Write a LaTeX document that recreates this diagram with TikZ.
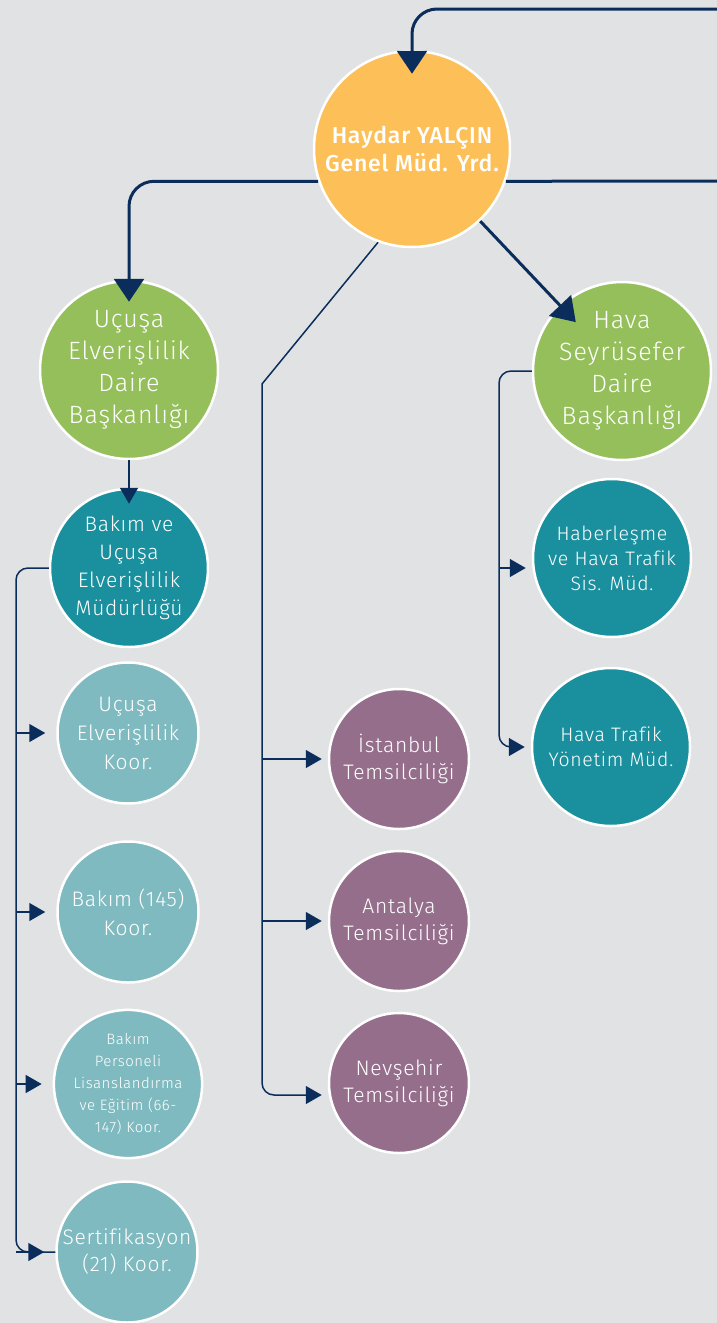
\documentclass[tikz,border=0pt]{standalone}
\usepackage{fontspec}
\setmainfont{Fira Sans}[UprightFont={* Light},BoldFont={* Medium},LetterSpace=3.5,Ligatures=NoCommon]
\usetikzlibrary{arrows.meta}
\definecolor{bgcol}{HTML}{E1E2E4}
\definecolor{navy}{HTML}{0B2D5B}
\definecolor{yellowc}{HTML}{FDBF57}
\definecolor{greenc}{HTML}{95BF5B}
\definecolor{tealc}{HTML}{1A909F}
\definecolor{lteal}{HTML}{7FBAC0}
\definecolor{purplec}{HTML}{956E8C}

\begin{document}
\begin{tikzpicture}[x=1pt,y=-1pt,
  circstyle/.style={circle,draw=white,line width=2.5pt,inner sep=0pt,align=center,text=white},
  headstyle/.style={circstyle,fill=yellowc,minimum size=196pt,font=\bfseries\fontsize{23}{28}\selectfont},
  daistyle/.style={circstyle,fill=greenc,minimum size=178pt,font=\fontsize{25}{32}\selectfont},
  mudstyle/.style={circstyle,fill=tealc,minimum size=158pt,font=\fontsize{21}{28}\selectfont},
  koorstyle/.style={circstyle,fill=lteal,minimum size=141pt,font=\fontsize{21}{29}\selectfont},
  temsstyle/.style={circstyle,fill=purplec,minimum size=140pt,font=\fontsize{21}{27}\selectfont},
  thickline/.style={draw=navy,line width=3pt},
  thinline/.style={draw=navy,line width=1.5pt},
  bigtip/.style={-{Triangle[width=30pt,length=23pt]}},
  smalltip/.style={-{Triangle[width=18pt,length=16pt]}}]
  \fill[bgcol] (0,0) rectangle (717,1323);
  \useasboundingbox (0,0) rectangle (717,1323);

  \node[headstyle] (yrd) at (412,149) {Haydar YALÇIN\\Genel Müd. Yrd.};
  \node[daistyle] (ucus) at (129,370) {Uçuşa\\Elverişlilik\\Daire\\Başkanlığı};
  \node[daistyle] (hava) at (622,371) {Hava\\Seyrüsefer\\Daire\\Başkanlığı};
  \node[mudstyle] (bkm) at (129,568) {Bakım ve\\Uçuşa\\Elverişlilik\\Müdürlüğü};
  \node[koorstyle] (koorA) at (128,733) {Uçuşa\\Elverişlilik\\Koor.};
  \node[koorstyle] (koorB) at (128,912) {Bakım (145)\\Koor.};
  \node[koorstyle,font=\fontsize{15}{22}\selectfont] (koorC) at (128,1084)
    {Bakım\\Personeli\\Lisanslandırma\\ve Eğitim (66-\\147) Koor.};
  \node[koorstyle,font=\fontsize{21}{27}\selectfont] (koorD) at (127,1252) {Sertifikasyon\\(21) Koor.};
  \node[temsstyle] (ist) at (399,759) {İstanbul\\Temsilciliği};
  \node[temsstyle] (ant) at (399,921) {Antalya\\Temsilciliği};
  \node[temsstyle] (nev) at (399,1083) {Nevşehir\\Temsilciliği};
  \node[mudstyle,font=\fontsize{19.5}{25}\selectfont] (hab) at (612,558) {Haberleşme\\ve Hava Trafik\\Sis. Müd.};
  \node[mudstyle,font=\fontsize{19.5}{25}\selectfont] (hty) at (611,747) {Hava Trafik\\Yönetim Müd.};

  \coordinate (topin) at (720,9);
  \coordinate (rightout) at (720,181);
  \coordinate (lbus) at (16,564);
  \coordinate (mbus) at (262,384);
  \coordinate (rbus) at (499,373);
  \coordinate (habin) at ([yshift=-10pt]hab.west);

  \draw[thickline,bigtip,rounded corners=25] (topin) -| ([yshift=-24pt]yrd.north);
  \draw[thickline] (yrd.-19) -- (rightout);
  \draw[thickline,bigtip,rounded corners=25] (yrd.199) -| ([yshift=-22pt]ucus.north);
  \draw[thickline,bigtip,shorten >=-23pt] (yrd) -- (hava);
  \draw[thinline,smalltip,shorten >=-16pt] (ucus) -- (bkm);

  \draw[thinline,rounded corners=12] (bkm.west) -| (lbus |- koorD) -- (koorD.west);
  \foreach \n in {koorA,koorB,koorC,koorD}
    \draw[thinline,smalltip] (lbus |- \n) -- ([xshift=-11pt]\n.west);

  \draw[thinline,smalltip] (yrd.250) -- (mbus) [rounded corners=12] |- ([xshift=-6pt,yshift=-12pt]nev.west);
  \foreach \n in {ist,ant}
    \draw[thinline,smalltip] (mbus |- \n) -- ([xshift=-6pt]\n.west);

  \draw[thinline,smalltip,rounded corners=12] (hava.west) -| (rbus |- hty) -- ([xshift=-6pt]hty.west);
  \draw[thinline,smalltip] (rbus |- habin) -- ([xshift=-6pt]habin);
\end{tikzpicture}
\end{document}
